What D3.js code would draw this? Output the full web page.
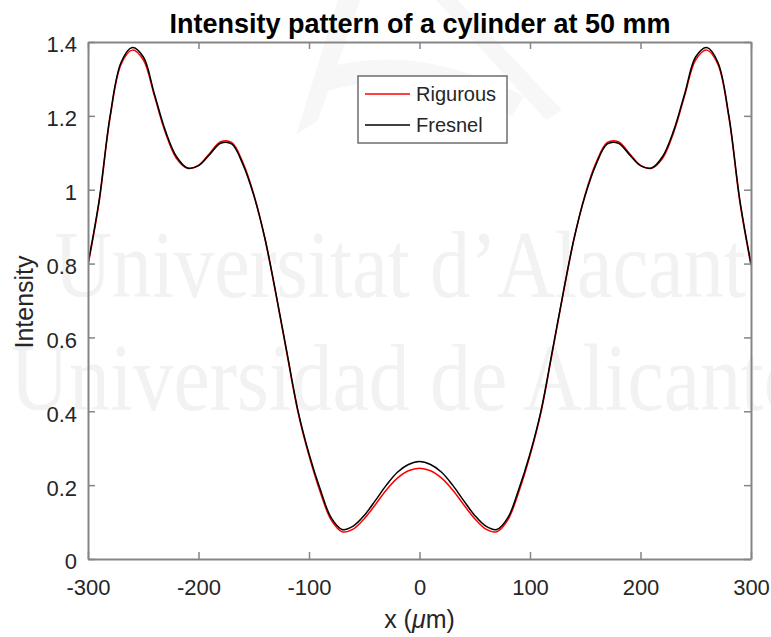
<!DOCTYPE html>
<html>
<head>
<meta charset="utf-8">
<script src="https://cdn.jsdelivr.net/npm/d3@7"></script>
<style>
  html, body { margin: 0; padding: 0; background: #fff; }
  svg { display: block; font-family: "Liberation Sans", Arial, sans-serif; }
</style>
</head>
<body>
<svg id="chart" width="771" height="637"></svg>
<script>
// x positions (um)
const xValues = [
  -300, -290, -280, -270, -260, -250, -240, -230, -220, -210,
  -200, -190, -180, -170, -160, -150, -140, -130, -120, -110,
  -100, -90, -80, -70, -60, -50, -40, -30, -20, -10,
  0,
  10, 20, 30, 40, 50, 60, 70, 80, 90, 100,
  110, 120, 130, 140, 150, 160, 170, 180, 190, 200,
  210, 220, 230, 240, 250, 260, 270, 280, 290, 300
];

const rigorous = [
  0.795, 0.965, 1.195, 1.340, 1.378, 1.352, 1.255, 1.155, 1.085, 1.058,
  1.066, 1.098, 1.130, 1.128, 1.075, 0.988, 0.868, 0.718, 0.556, 0.398,
  0.280, 0.183, 0.106, 0.074, 0.081, 0.109, 0.147, 0.187, 0.219, 0.239,
  0.246,
  0.239, 0.219, 0.187, 0.147, 0.109, 0.081, 0.074, 0.106, 0.183, 0.280,
  0.398, 0.556, 0.718, 0.868, 0.988, 1.075, 1.128, 1.130, 1.098, 1.066,
  1.058, 1.085, 1.155, 1.255, 1.352, 1.378, 1.340, 1.195, 0.965, 0.795
];

const fresnel = [
  0.800, 0.970, 1.200, 1.345, 1.385, 1.360, 1.260, 1.160, 1.090, 1.059,
  1.065, 1.095, 1.126, 1.124, 1.070, 0.985, 0.870, 0.720, 0.560, 0.402,
  0.285, 0.190, 0.112, 0.080, 0.089, 0.118, 0.158, 0.200, 0.235, 0.256,
  0.264,
  0.256, 0.235, 0.200, 0.158, 0.118, 0.089, 0.080, 0.112, 0.190, 0.285,
  0.402, 0.560, 0.720, 0.870, 0.985, 1.070, 1.124, 1.126, 1.095, 1.065,
  1.059, 1.090, 1.160, 1.260, 1.360, 1.385, 1.345, 1.200, 0.970, 0.800
];

const xTicks = [-300, -200, -100, 0, 100, 200, 300];
const yTicks = [0, 0.2, 0.4, 0.6, 0.8, 1, 1.2, 1.4];

const series = [
  { name: 'Rigurous', color: '#ff0000', values: rigorous },
  { name: 'Fresnel', color: '#000000', values: fresnel }
];

const plot = { left: 88, right: 751, top: 42, bottom: 559 };
const axisColor = '#858585';
const textColor = '#262626';

const svg = d3.select('#chart');

const x = d3.scaleLinear().domain([-300, 300]).range([plot.left, plot.right]);
const y = d3.scaleLinear().domain([0, 1.4]).range([plot.bottom, plot.top]);

// faint watermark (logo + text)
const wm = svg.append('g');
wm.append('path')
  .attr('fill', '#f7f7f7')
  .attr('d', 'M296,135 L338,0 L360,0 L318,120 Z M320,70 Q410,40 524,96 L512,116 Q410,64 324,92 Z M436,0 L458,0 L562,110 L546,120 Z');
wm.append('g')
  .attr('fill', '#f2f2f2')
  .attr('font-family', '"Liberation Serif", "DejaVu Serif", serif')
  .attr('font-size', 96)
  .call(g => {
    g.append('text')
      .attr('x', 54).attr('y', 297)
      .attr('textLength', 692).attr('lengthAdjust', 'spacingAndGlyphs')
      .text('Universitat d\u2019Alacant');
    g.append('text')
      .attr('x', 10).attr('y', 410)
      .attr('textLength', 790).attr('lengthAdjust', 'spacingAndGlyphs')
      .text('Universidad de Alicante');
  });

// curves
const line = d3.line()
  .x((d, i) => x(xValues[i]))
  .y(d => y(d))
  .curve(d3.curveCatmullRom.alpha(0.5));

svg.append('defs').append('clipPath').attr('id', 'plotclip')
  .append('rect')
  .attr('x', plot.left).attr('y', plot.top)
  .attr('width', plot.right - plot.left).attr('height', plot.bottom - plot.top);

svg.append('g').attr('clip-path', 'url(#plotclip)')
  .selectAll('path')
  .data(series)
  .join('path')
    .attr('d', d => line(d.values))
    .attr('fill', 'none')
    .attr('stroke', d => d.color)
    .attr('stroke-width', 1.5);

// axes (MATLAB box style, ticks inward)
const tickLen = 7;
const fmt = d => d3.format('~g')(d).replace('\u2212', '-');
const xAxisB = d3.axisBottom(x).tickValues(xTicks).tickSizeInner(-tickLen).tickSizeOuter(0).tickPadding(20)
  .tickFormat(fmt);
const xAxisT = d3.axisTop(x).tickValues(xTicks).tickSizeInner(-tickLen).tickSizeOuter(0).tickFormat('');
const yAxisL = d3.axisLeft(y).tickValues(yTicks).tickSizeInner(-tickLen).tickSizeOuter(0).tickPadding(11)
  .tickFormat(fmt);
const yAxisR = d3.axisRight(y).tickValues(yTicks).tickSizeInner(-tickLen).tickSizeOuter(0).tickFormat('');

function styleAxis(g) {
  g.select('.domain').attr('stroke', axisColor).attr('stroke-width', 2);
  g.selectAll('.tick line').attr('stroke', axisColor).attr('stroke-width', 1.5);
  g.selectAll('.tick text')
    .attr('fill', textColor)
    .attr('font-size', 22)
    .attr('font-family', '"Liberation Sans", Arial, sans-serif');
}

svg.append('g').attr('transform', `translate(0,${plot.bottom})`).call(xAxisB).call(styleAxis);
svg.append('g').attr('transform', `translate(0,${plot.top})`).call(xAxisT).call(styleAxis);
svg.append('g').attr('transform', `translate(${plot.left},0)`).call(yAxisL).call(styleAxis)
  .selectAll('.tick text').attr('dy', '0.45em');
svg.append('g').attr('transform', `translate(${plot.right},0)`).call(yAxisR).call(styleAxis);

// title and labels
svg.append('text')
  .attr('x', 420).attr('y', 33)
  .attr('text-anchor', 'middle')
  .attr('font-weight', 'bold')
  .attr('font-size', 27)
  .attr('fill', '#000')
  .text('Intensity pattern of a cylinder at 50 mm');

const xl = svg.append('text')
  .attr('x', (plot.left + plot.right) / 2).attr('y', 628)
  .attr('text-anchor', 'middle')
  .attr('font-size', 25)
  .attr('fill', textColor);
xl.append('tspan').text('x (');
xl.append('tspan').attr('font-style', 'italic').text('\u03bc');
xl.append('tspan').text('m)');

svg.append('text')
  .attr('transform', `translate(33,302) rotate(-90)`)
  .attr('text-anchor', 'middle')
  .attr('font-size', 25)
  .attr('fill', textColor)
  .text('Intensity');

// legend
const legend = svg.append('g').attr('transform', 'translate(358,76)');
legend.append('rect')
  .attr('width', 149).attr('height', 67)
  .attr('fill', '#fff')
  .attr('stroke', '#6e6e6e')
  .attr('stroke-width', 1.5);
const item = legend.selectAll('g.item')
  .data(series)
  .join('g')
    .attr('class', 'item')
    .attr('transform', (d, i) => `translate(0,${18 + i * 31})`);
item.append('line')
  .attr('x1', 7).attr('x2', 52)
  .attr('stroke', d => d.color)
  .attr('stroke-width', 1.5);
item.append('text')
  .attr('x', 58).attr('y', 7)
  .attr('font-size', 20)
  .attr('fill', textColor)
  .text(d => d.name);
</script>
</body>
</html>
